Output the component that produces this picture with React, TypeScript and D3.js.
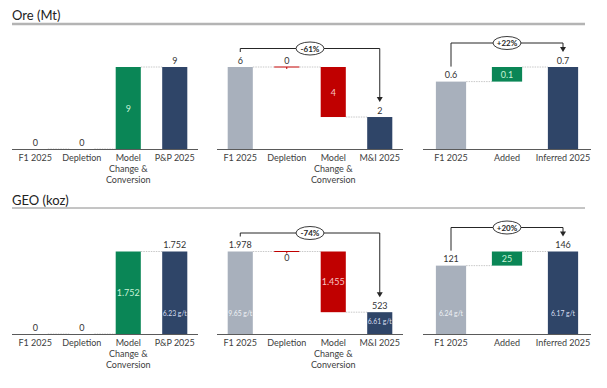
import React from "react";
import * as d3 from "d3";

// ---------- data ----------
const sectionTitles = ["Ore (Mt)", "GEO (koz)"];

const catsPP = ["F1 2025", "Depletion", "Model\nChange &\nConversion", "P&P 2025"];
const catsMI = ["F1 2025", "Depletion", "Model\nChange &\nConversion", "M&I 2025"];
const catsInf = ["F1 2025", "Added", "Inferred 2025"];
const kinds4 = ["total", "delta", "delta", "total"];
const kinds3 = ["total", "delta", "total"];

const orePP = [0, 0, 9, 9];
const oreMI = [6.0, 0, -3.66, 2.34];
const oreInf = [0.6, 0.13, 0.73];

const geoPP = [0, 0, 1752, 1752];
const geoMI = [1978, 0, -1455, 523];
const geoInf = [121, 25, 146];

const gradePP = ["", "", "", "6.23 g/t"];
const gradeMI = ["9.65 g/t", "", "", "6.61 g/t"];
const gradeInf = ["6.24 g/t", "", "6.17 g/t"];

const changeOre = ["", "-61%", "+22%"];
const changeGeo = ["", "-74%", "+20%"];

// ---------- formats ----------
const euLocale = d3.formatLocale({ decimal: ",", thousands: ".", grouping: [3], currency: ["", ""] });
const fmtInt = euLocale.format(",.0f");
const fmt1 = d3.format(".1f");

// ---------- layout / style ----------
const FONT = "Lato, 'Open Sans', sans-serif";
const C_GRAY = "#a8b0bc";
const C_NAVY = "#2f4568";
const C_GREEN = "#0a8656";
const C_RED = "#c00000";
const C_TEXT = "#333333";
const C_AXIS = "#5a5a5a";

const rows = [
  { titleY: 15, lineY: 24, lineW: 2.5, lineC: "#b4b4b4", base: 149, top: 67, zeroBelow: false },
  { titleY: 200, lineY: 208, lineW: 1, lineC: "#8a8a8a", base: 334, top: 251.5, zeroBelow: true },
];
const cols: [number, number][] = [
  [12, 198],
  [217, 403],
  [423, 591],
];

type Chart = {
  cats: string[];
  kinds: string[];
  values: number[];
  grades: string[];
  change: string;
  fmt: (v: number) => string;
};

const charts: Chart[][] = [
  [
    { cats: catsPP, kinds: kinds4, values: orePP, grades: ["", "", "", ""], change: changeOre[0], fmt: fmtInt },
    { cats: catsMI, kinds: kinds4, values: oreMI, grades: ["", "", "", ""], change: changeOre[1], fmt: fmtInt },
    { cats: catsInf, kinds: kinds3, values: oreInf, grades: ["", "", ""], change: changeOre[2], fmt: fmt1 },
  ],
  [
    { cats: catsPP, kinds: kinds4, values: geoPP, grades: gradePP, change: changeGeo[0], fmt: fmtInt },
    { cats: catsMI, kinds: kinds4, values: geoMI, grades: gradeMI, change: changeGeo[1], fmt: fmtInt },
    { cats: catsInf, kinds: kinds3, values: geoInf, grades: gradeInf, change: changeGeo[2], fmt: fmtInt },
  ],
];

function Waterfall({ chart, range, row }: { chart: Chart; range: [number, number]; row: typeof rows[0] }) {
  const n = chart.cats.length;
  const x = d3.scaleBand<string>().domain(chart.cats).range(range).paddingInner(0.46).paddingOuter(0.23);
  let level = 0;
  const bars = chart.values.map((v, i) => {
    let y0: number, y1: number;
    if (chart.kinds[i] === "total") {
      y0 = 0;
      y1 = v;
      level = v;
    } else {
      y0 = level;
      y1 = level + v;
      level = level + v;
    }
    return { i, v, y0, y1, lo: Math.min(y0, y1), hi: Math.max(y0, y1), kind: chart.kinds[i] };
  });
  const maxV = d3.max(bars, (b) => b.hi) || 1;
  const y = d3.scaleLinear().domain([0, maxV]).range([row.base, row.top]);
  const bw = x.bandwidth();
  const cx = (i: number) => (x(chart.cats[i]) as number) + bw / 2;

  const colorOf = (b: typeof bars[0]) => {
    if (b.kind === "total") return b.i === 0 ? C_GRAY : C_NAVY;
    return b.v >= 0 ? C_GREEN : C_RED;
  };

  const totalLabelY = (b: typeof bars[0]) => y(b.hi) - 7;

  const connectors = bars.slice(0, -1).map((b, k) => ({
    x1: (x(chart.cats[k]) as number) + bw,
    x2: x(chart.cats[k + 1]) as number,
    y: y(b.y1),
    key: k,
  }));

  let bracket = null as React.ReactNode;
  if (chart.change) {
    const first = bars[0];
    const last = bars[n - 1];
    const x1 = cx(0);
    const x2 = cx(n - 1);
    const yB = y(maxV) - (n === 4 ? 18.5 : 24);
    const ys = totalLabelY(first) - 8;
    const ye = totalLabelY(last) - 8;
    const mx = (x1 + x2) / 2;
    bracket = (
      <g>
        <path d={`M${x1},${ys} V${yB} H${x2} V${ye - 4}`} fill="none" stroke="#262626" strokeWidth={1} />
        <path d={`M${x2 - 3},${ye - 5} L${x2 + 3},${ye - 5} L${x2},${ye} Z`} fill="#262626" />
        <ellipse cx={mx} cy={yB} rx={14} ry={6.5} fill="#ffffff" stroke="#262626" strokeWidth={0.9} />
        <text x={mx} y={yB} textAnchor="middle" dominantBaseline="central" fontSize={8} fontWeight={700} fill="#262626">
          {chart.change}
        </text>
      </g>
    );
  }

  return (
    <g fontFamily={FONT}>
      {connectors.map((c) => (
        <line key={"c" + c.key} x1={c.x1} x2={c.x2} y1={c.y} y2={c.y} stroke="#c8c8c8" strokeWidth={1} strokeDasharray="1.5,1" />
      ))}
      {bars.map((b) =>
        b.hi - b.lo > 0 ? (
          <rect key={"b" + b.i} x={x(chart.cats[b.i])} width={bw} y={y(b.hi)} height={y(b.lo) - y(b.hi)} fill={colorOf(b)} />
        ) : b.kind === "delta" && b.y0 > 0 ? (
          <g key={"b" + b.i}>
            <line x1={x(chart.cats[b.i])} x2={(x(chart.cats[b.i]) as number) + bw} y1={y(b.y0)} y2={y(b.y0)} stroke={C_RED} strokeWidth={1} />
            <line x1={cx(b.i)} x2={cx(b.i)} y1={y(b.y0)} y2={y(b.y0) + 2} stroke={C_RED} strokeWidth={1} />
          </g>
        ) : null
      )}
      {bars.map((b) => {
        const label = chart.fmt(Math.abs(b.v));
        if (b.kind === "total" || b.v === 0) {
          let ly = totalLabelY(b);
          if (b.kind === "delta" && b.v === 0 && b.y0 > 0 && row.zeroBelow) ly = y(b.y0) + 6;
          return (
            <text key={"l" + b.i} x={cx(b.i)} y={ly} textAnchor="middle" dominantBaseline="central" fontSize={9} fill={C_TEXT}>
              {label}
            </text>
          );
        }
        const my = (y(b.lo) + y(b.hi)) / 2;
        return (
          <text key={"l" + b.i} x={cx(b.i)} y={my} textAnchor="middle" dominantBaseline="central" fontSize={9}
            fill={b.v >= 0 ? "#c8f2d6" : "#f7c4c4"}>
            {label}
          </text>
        );
      })}
      {bars.map((b) => {
        const g = chart.grades[b.i];
        if (!g) return null;
        const h = y(b.lo) - y(b.hi);
        const gy = h < 42 ? (y(b.lo) + y(b.hi)) / 2 - 2 : row.base - 21;
        return (
          <text key={"g" + b.i} x={cx(b.i)} y={gy} textAnchor="middle" dominantBaseline="central" fontSize={6.8}
            fill={b.i === 0 ? "#eef1f5" : "#d6def0"}>
            {g}
          </text>
        );
      })}
      <line x1={range[0]} x2={range[1]} y1={row.base + 0.5} y2={row.base + 0.5} stroke={C_AXIS} strokeWidth={1} />
      {chart.cats.map((c, i) =>
        c.split("\n").map((ln, j) => (
          <text key={"t" + i + "_" + j} x={cx(i)} y={row.base + 8 + j * 11} textAnchor="middle" dominantBaseline="central"
            fontSize={9} fill="#404040">
            {ln}
          </text>
        ))
      )}
      {bracket}
    </g>
  );
}

export default function App() {
  return (
    <svg width={607} height={388} style={{ position: "absolute", left: 0, top: 0, background: "#fff" }} fontFamily={FONT}>
      <rect width={607} height={388} fill="#ffffff" />
      {rows.map((row, r) => (
        <g key={"row" + r}>
          <text x={12} y={row.titleY} dominantBaseline="central" fontSize={13} fill="#222">
            {sectionTitles[r]}
          </text>
          <line x1={12} x2={585} y1={row.lineY} y2={row.lineY} stroke={row.lineC} strokeWidth={row.lineW} />
          {charts[r].map((ch, c) => (
            <Waterfall key={"ch" + r + c} chart={ch} range={cols[c]} row={row} />
          ))}
        </g>
      ))}
    </svg>
  );
}
